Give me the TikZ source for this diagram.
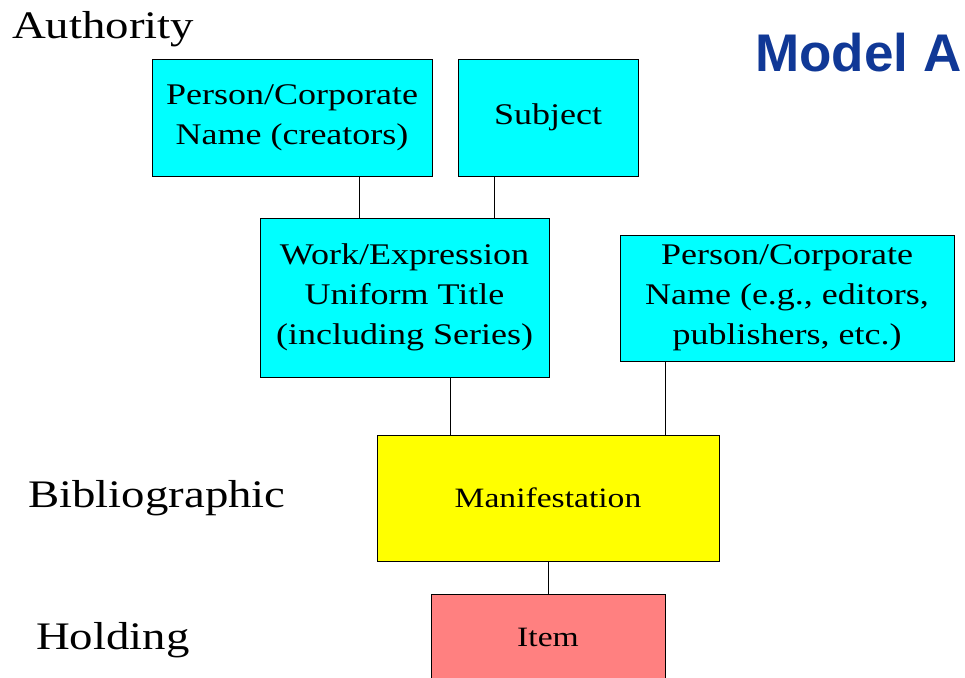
\documentclass[tikz,border=0pt]{standalone}
\usepackage{fontspec}
\setmainfont{Liberation Serif}[FakeStretch=1.2]
\newfontfamily\modelfont{Liberation Sans}
\definecolor{authcyan}{RGB}{0,255,255}
\definecolor{biblyellow}{RGB}{255,255,0}
\definecolor{holdpink}{RGB}{255,128,128}
\definecolor{modelblue}{RGB}{16,56,150}

\begin{document}
\begin{tikzpicture}[x=1pt, y=-1pt, authbox/.style={rectangle, fill=authcyan, draw, line width=1pt, align=center, font=\fontsize{30}{40}\selectfont}, level/.style={anchor=base west, inner sep=0pt, font=\fontsize{39}{44}\selectfont}]
	\useasboundingbox (0,0) rectangle (965,677);

	% nodes
	\node[authbox, minimum width=280pt, minimum height=117pt] (creators) at (292,117.5) {Person/Corporate\\Name (creators)};%
	\node[authbox, minimum width=180pt, minimum height=117pt] (subject) at (548,117.5) {Subject};%
	\node[authbox, minimum width=289pt, minimum height=159pt] (work) at (404.5,297.5) {Work/Expression\\Uniform Title\\(including Series)};%
	\node[authbox, minimum width=334pt, minimum height=126pt] (editors) at (787,298) {Person/Corporate\\Name (e.g., editors,\\publishers, etc.)};%
	\node[authbox, fill=biblyellow, minimum width=342pt, minimum height=126pt, font=\fontsize{28}{34}\selectfont] (manif) at (548,498) {Manifestation};%
	\node[authbox, fill=holdpink, minimum width=234pt, minimum height=86pt, font=\fontsize{28}{34}\selectfont] (item) at (548,637) {Item};%

	% levels
	\node[level] (authority) at (12,39) {Authority};
	\node[level] (bibl) at (28,507) {Bibliographic};
	\node[level] (holding) at (36,649) {Holding};
	\node[level, text=modelblue, font=\modelfont\bfseries\fontsize{53}{60}\selectfont] (model) at (755,71) {Model A};

	% edges
	\draw [line width=1pt] ([xshift=67pt]creators.south) coordinate (c1) -- (c1 |- work.north);
	\draw [line width=1pt] ([xshift=-54pt]subject.south) coordinate (s1) -- (s1 |- work.north);
	\draw [line width=1pt] ([xshift=45.5pt]work.south) coordinate (w1) -- (w1 |- manif.north);
	\draw [line width=1pt] ([xshift=-122pt]editors.south) coordinate (e1) -- (e1 |- manif.north);
	\draw [line width=1pt] (manif) -- (item);
\end{tikzpicture}
\end{document}
